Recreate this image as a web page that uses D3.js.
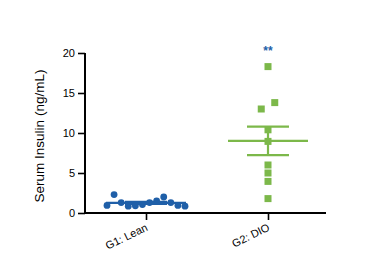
<!DOCTYPE html>
<html>
<head>
<meta charset="utf-8">
<script src="https://cdn.jsdelivr.net/npm/d3@7"></script>
<style>
  body { margin: 0; background: #fff; }
  svg { font-family: "Liberation Sans", Arial, sans-serif; }
</style>
</head>
<body>
<div id="chart"></div>
<script>
// values, listed left to right within each group
const groups = ["G1: Lean", "G2: DIO"];
const leanValues = [0.95, 2.3, 1.3, 0.85, 0.9, 1.05, 1.3, 1.5, 2.0, 1.3, 0.95, 0.85];
const dioValues  = [18.3, 13.0, 13.8, 10.4, 8.95, 6.0, 5.0, 3.95, 1.8];
const yTicks = [0, 5, 10, 15, 20];
const colors = ["#1f5fa8", "#7cb84a"];

const W = 374, H = 275;
const margin = { top: 53, left: 85 };
const plotW = 244, plotH = 160;

const svg = d3.select("#chart").append("svg")
  .attr("width", W).attr("height", H);
const g = svg.append("g")
  .attr("transform", `translate(${margin.left},${margin.top})`);

const x = d3.scalePoint().domain(groups).range([0, plotW]).padding(0.5);
const y = d3.scaleLinear().domain([0, 20]).range([plotH, 0]);

// spread points whose heights nearly touch, like a dot plot
function spread(vals) {
  const order = vals.map((v, i) => i).sort((a, b) => vals[a] - vals[b]);
  const clusters = [];
  order.forEach(i => {
    const last = clusters[clusters.length - 1];
    if (last && Math.abs(y(vals[i]) - y(vals[last[last.length - 1]])) < 7.5) last.push(i);
    else clusters.push([i]);
  });
  const off = new Array(vals.length).fill(0);
  clusters.forEach(c => {
    c.sort((a, b) => a - b);
    const n = c.length;
    if (n < 2) return;
    const step = Math.min(13.5, 78 / (n - 1));
    c.forEach((i, k) => { off[i] = (k - (n - 1) / 2) * step; });
  });
  return off;
}

const series = [leanValues, dioValues];
series.forEach((vals, gi) => {
  const cx = x(groups[gi]);
  const col = colors[gi];
  const off = spread(vals);
  const m = d3.mean(vals);
  const sem = d3.deviation(vals) / Math.sqrt(vals.length);

  if (gi === 0) {
    g.selectAll(null).data(vals).join("circle")
      .attr("cx", (d, i) => cx + off[i])
      .attr("cy", d => y(d))
      .attr("r", 3.4)
      .attr("fill", col);
  } else {
    g.selectAll(null).data(vals).join("rect")
      .attr("x", (d, i) => cx + off[i] - 3.5)
      .attr("y", d => y(d) - 3.5)
      .attr("width", 7).attr("height", 7)
      .attr("fill", col);
  }

  // mean and SEM
  g.append("line")
    .attr("x1", cx - 40).attr("x2", cx + 40)
    .attr("y1", y(m)).attr("y2", y(m))
    .attr("stroke", col).attr("stroke-width", 2.2);
  g.append("line")
    .attr("x1", cx).attr("x2", cx)
    .attr("y1", y(m - sem)).attr("y2", y(m + sem))
    .attr("stroke", col).attr("stroke-width", 2.2);
  [m - sem, m + sem].forEach(v => {
    g.append("line")
      .attr("x1", cx - 21).attr("x2", cx + 21)
      .attr("y1", y(v)).attr("y2", y(v))
      .attr("stroke", col).attr("stroke-width", 2.2);
  });
});

// significance mark
g.append("text")
  .attr("x", x(groups[1]))
  .attr("y", y(20) + 2)
  .attr("text-anchor", "middle")
  .attr("fill", colors[0])
  .attr("font-size", "12px")
  .attr("font-weight", "bold")
  .text("**");

// axes
const yAxis = g.append("g")
  .call(d3.axisLeft(y).tickValues(yTicks).tickSize(7).tickPadding(3).tickSizeOuter(0));
yAxis.select(".domain").attr("stroke-width", 2).attr("d", `M0,${plotH + 1}V0`);
yAxis.selectAll(".tick line").attr("stroke-width", 1.6);
yAxis.selectAll("text").attr("font-size", "11px").attr("fill", "#000");

const xAxis = g.append("g")
  .attr("transform", `translate(0,${plotH})`)
  .call(d3.axisBottom(x).tickSize(7).tickSizeOuter(0));
xAxis.select(".domain").attr("stroke-width", 2).attr("d", `M-1,0H${plotW - 3}`);
xAxis.selectAll(".tick line").attr("stroke-width", 1.6);
xAxis.selectAll("text")
  .attr("font-size", "11px").attr("fill", "#000")
  .attr("text-anchor", "end")
  .attr("x", 0).attr("y", 0).attr("dy", 0)
  .attr("transform", "translate(2,17) rotate(-26)");

svg.append("text")
  .attr("transform", `translate(44,${margin.top + plotH / 2 + 3}) rotate(-90)`)
  .attr("text-anchor", "middle")
  .attr("font-size", "13.5px")
  .text("Serum Insulin (ng/mL)");
</script>
</body>
</html>
